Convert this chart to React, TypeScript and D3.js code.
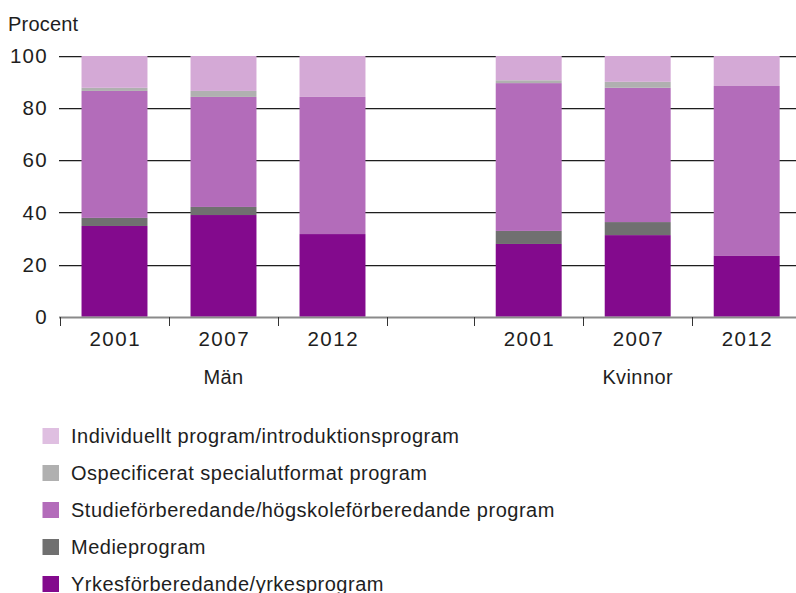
import React from "react";
import * as d3 from "d3";

// ---- Data ----
const groups = ["Män", "Kvinnor"];
const years = ["2001", "2007", "2012"];
const seriesNames = [
  "Yrkesförberedande/yrkesprogram",
  "Medieprogram",
  "Studieförberedande/högskoleförberedande program",
  "Ospecificerat specialutformat program",
  "Individuellt program/introduktionsprogram",
];
// order of values: Män 2001, 2007, 2012, Kvinnor 2001, 2007, 2012
const yrkes = [34.8, 39.0, 31.7, 27.9, 31.3, 23.3];
const medie = [3.1, 3.1, 0, 5.0, 5.0, 0];
const studie = [48.7, 42.2, 52.6, 56.7, 51.5, 65.2];
const ospec = [1.2, 2.3, 0, 1.1, 2.3, 0];
const individ = [12.2, 13.4, 15.7, 9.3, 9.9, 11.5];
const yTicks = [0, 20, 40, 60, 80, 100];
const yLabel = "Procent";

const colors = ["#830A8D", "#707070", "#B36CBA", "#B0B0B0", "#D4A9D6"];
const legendColors = ["#830A8D", "#707070", "#B36CBA", "#B0B0B0", "#DFBFE1"];

const W = 796;
const H = 593;
const FONT = "'Liberation Sans', Arial, sans-serif";

export default function App() {
  const seriesValues = [yrkes, medie, studie, ospec, individ];
  const rows = groups.flatMap((g, gi) =>
    years.map((yr, yi) => {
      const idx = gi * years.length + yi;
      const row: any = { group: g, year: yr, gi, yi };
      seriesNames.forEach((s, si) => (row[s] = seriesValues[si][idx]));
      return row;
    })
  );
  const stacked = d3.stack<any>().keys(seriesNames)(rows);

  const gapSlot = 0.8;
  const slotsPerGroup = years.length + gapSlot;
  const slotStart = (gi: number, yi: number) => gi * slotsPerGroup + yi;
  const x = d3
    .scaleLinear()
    .domain([0, groups.length * years.length + gapSlot])
    .range([60, 60 + 6.8 * 109]);
  const y = d3.scaleLinear().domain([0, 100]).range([316.7, 56]);
  const barPad = 0.1975;

  const tickSlots: number[] = [];
  groups.forEach((_, gi) => {
    for (let yi = 0; yi < years.length; yi++) tickSlots.push(slotStart(gi, yi));
    if (gi < groups.length - 1) tickSlots.push(slotStart(gi, years.length));
  });

  const legendY0 = 436;
  const legendStep = 37;
  const legendOrder = [4, 3, 2, 1, 0];
  const textFill = "#1e1e1e";

  return (
    <svg
      width={W}
      height={H}
      style={{ position: "absolute", left: 0, top: 0, background: "#fff" }}
      fontFamily={FONT}
    >
      <text x={8} y={30.5} fontSize={20} fill={textFill} letterSpacing={0.2}>
        {yLabel}
      </text>
      {/* grid */}
      {yTicks.slice(1).map((t) => (
        <g key={t}>
          <line x1={59} x2={W} y1={Math.round(y(t)) + 0.5} y2={Math.round(y(t)) + 0.5} stroke="#1e1e1e" strokeWidth={1} />
          <line x1={59} x2={W} y1={Math.round(y(t)) + 1.5} y2={Math.round(y(t)) + 1.5} stroke="#c4c4c4" strokeWidth={1} />
        </g>
      ))}
      {yTicks.map((t) => (
        <text key={t} x={48} y={y(t)} dy="0.35em" textAnchor="end" fontSize={20.5} fill={textFill} letterSpacing={1.3}>
          {t}
        </text>
      ))}
      {/* bars */}
      {stacked.map((s, si) => (
        <g key={s.key} fill={colors[si]}>
          {s.map((d, i) => {
            const r = rows[i];
            const x0 = x(slotStart(r.gi, r.yi) + barPad);
            const x1 = x(slotStart(r.gi, r.yi) + 1 - barPad);
            const h = y(d[0]) - y(d[1]);
            if (h <= 0) return null;
            return <rect key={i} x={x0} y={y(d[1])} width={x1 - x0} height={h} />;
          })}
        </g>
      ))}
      {/* x axis */}
      <line x1={59} x2={W} y1={317.5} y2={317.5} stroke="#8a8a8a" strokeWidth={2} />
      {tickSlots.map((s, i) => (
        <line key={i} x1={Math.round(x(s)) + 0.5} x2={Math.round(x(s)) + 0.5} y1={317} y2={326} stroke="#333" strokeWidth={1} />
      ))}
      {rows.map((r, i) => (
        <text key={i} x={x(slotStart(r.gi, r.yi) + 0.5) + 0.75} y={346} textAnchor="middle" fontSize={20.5} fill={textFill} letterSpacing={1.5}>
          {r.year}
        </text>
      ))}
      {groups.map((g, gi) => (
        <text key={g} x={(x(slotStart(gi, 0)) + x(slotStart(gi, years.length))) / 2} y={384} textAnchor="middle" fontSize={20} fill={textFill} letterSpacing={0.4}>
          {g}
        </text>
      ))}
      {/* legend */}
      {legendOrder.map((si, k) => (
        <g key={si} transform={`translate(0, ${legendY0 + k * legendStep})`}>
          <rect x={42.5} y={-8} width={16.5} height={16} fill={legendColors[si]} />
          <text x={71} y={0} dy="0.36em" fontSize={20} fill={textFill} letterSpacing={0.5}>
            {seriesNames[si]}
          </text>
        </g>
      ))}
    </svg>
  );
}
